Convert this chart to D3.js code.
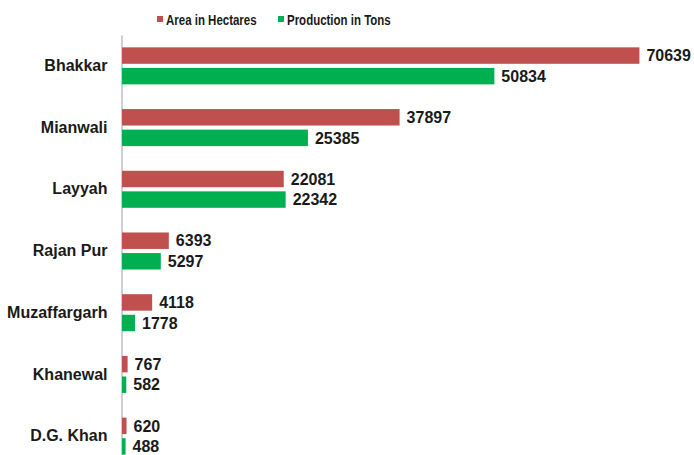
<!DOCTYPE html>
<html><head><meta charset="utf-8">
<script src="https://cdn.jsdelivr.net/npm/d3@7"></script>
<style>body{margin:0;background:#fff}svg{display:block}</style>
</head><body>
<svg id="c" width="694" height="455"></svg>
<script>
const categories = ["Bhakkar","Mianwali","Layyah","Rajan Pur","Muzaffargarh","Khanewal","D.G. Khan"];
const seriesNames = ["Area in Hectares","Production in Tons"];
const areaValues = [70639,37897,22081,6393,4118,767,620];
const productionValues = [50834,25385,22342,5297,1778,582,488];
const colors = ["#C0504D","#00B050"];

const svg = d3.select("#c");
const font = "'Liberation Sans', Arial, sans-serif";
const x = d3.scaleLinear().domain([0,80000]).range([122,708]);
const y = d3.scaleBand().domain(categories).range([35,467]).paddingInner(0.4).paddingOuter(0.2);
const ys = d3.scaleBand().domain([0,1]).range([0,y.bandwidth()]).paddingInner(0.2);
const series = [areaValues, productionValues];

// axis
const ax = svg.append("g").attr("transform","translate(121.5,0)")
  .call(d3.axisLeft(y).tickSize(0).tickPadding(14).tickSizeOuter(0));
ax.select(".domain").attr("stroke","#BFBFBF").attr("stroke-width",1.5);
ax.selectAll("text").attr("font-family",font).attr("font-weight","bold").attr("font-size",16).attr("fill","#1a1a1a");

series.forEach((vals,si)=>{
  const g = svg.append("g");
  g.selectAll("rect").data(vals).join("rect")
    .attr("x",x(0)).attr("y",(d,i)=>y(categories[i])+ys(si))
    .attr("width",d=>x(d)-x(0)).attr("height",ys.bandwidth())
    .attr("fill",colors[si]);
  g.selectAll("text").data(vals).join("text")
    .attr("x",d=>x(d)+7).attr("y",(d,i)=>y(categories[i])+ys(si)+ys.bandwidth()/2)
    .attr("dy","0.36em")
    .attr("font-family",font).attr("font-weight","bold").attr("font-size",16).attr("fill","#1a1a1a")
    .text(d=>d);
});

// legend
const legX = [157, 278];
seriesNames.forEach((n,i)=>{
  svg.append("rect").attr("x",legX[i]).attr("y",16).attr("width",6).attr("height",6).attr("fill",colors[i]);
  svg.append("text").attr("transform",`translate(${legX[i]+9},24.5) scale(0.82,1)`)
    .attr("font-family",font).attr("font-weight","bold").attr("font-size",14).attr("fill","#1a1a1a")
    .text(n);
});
</script>
</body></html>
